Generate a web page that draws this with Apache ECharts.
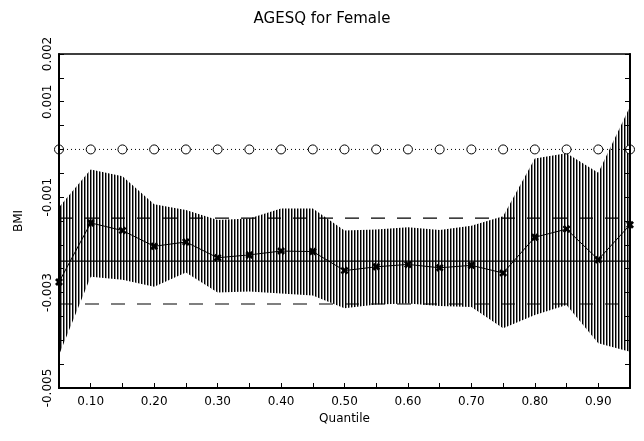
<!DOCTYPE html>
<html>
<head>
<meta charset="utf-8">
<script src="https://cdn.jsdelivr.net/npm/echarts@6/dist/echarts.min.js"></script>
<style>
  html, body { margin: 0; padding: 0; background: #fff; }
  #chart { width: 644px; height: 441px; }
</style>
</head>
<body>
<div id="chart"></div>
<script>
// valores
var quantiles = [0.05, 0.10, 0.15, 0.20, 0.25, 0.30, 0.35, 0.40, 0.45, 0.50,
                 0.55, 0.60, 0.65, 0.70, 0.75, 0.80, 0.85, 0.90, 0.95];
var estimates = [-0.00278, -0.00154, -0.00170, -0.00203, -0.00194, -0.00227, -0.00221, -0.00213, -0.00214, -0.00254,
                 -0.00246, -0.00241, -0.00248, -0.00243, -0.00259, -0.00184, -0.00167, -0.00231, -0.00158];
var upperCL = [-0.00121, -0.00042, -0.00056, -0.00115, -0.00127, -0.00148, -0.00145, -0.00124, -0.00124, -0.00170,
               -0.00168, -0.00163, -0.00169, -0.00160, -0.00140, -0.00019, -0.00008, -0.00049, 0.00090];
var lowerCL = [-0.00431, -0.00267, -0.00273, -0.00288, -0.00258, -0.00300, -0.00298, -0.00302, -0.00306, -0.00333,
               -0.00325, -0.00323, -0.00328, -0.00330, -0.00375, -0.00347, -0.00326, -0.00406, -0.00424];
var zeroValues = [0, 0, 0, 0, 0, 0, 0, 0, 0, 0, 0, 0, 0, 0, 0, 0, 0, 0, 0];
var olsEstimate = -0.00234;
var olsUpper = -0.00144;
var olsLower = -0.00324;
var yLabels = [0.002, 0.001, -0.001, -0.003, -0.005];

var chart = echarts.init(document.getElementById('chart'));

// padrão de hachura vertical para a banda de confiança
var pat = document.createElement('canvas');
pat.width = 3;
pat.height = 4;
var ctx = pat.getContext('2d');
ctx.fillStyle = '#000';
ctx.fillRect(0, 0, 1, 4);
ctx.fillStyle = '#8a8a8a';
ctx.fillRect(1, 0, 1, 4);

function pairs(values) {
    return quantiles.map(function (q, i) { return [q, values[i]]; });
}

function hline(v) {
    return [[quantiles[0], v], [quantiles[quantiles.length - 1], v]];
}

var xMark = 'path://M0,2.5L2.5,0L5,2.5L7.5,0L10,2.5L7.5,5L10,7.5L7.5,10L5,7.5L2.5,10L0,7.5L2.5,5Z';
var font = 'DejaVu Sans';

var options = {
    backgroundColor: '#fff',
    animation: false,
    title: {
        text: 'AGESQ for Female',
        left: 'center',
        top: 7,
        textStyle: { fontFamily: font, fontSize: 15, fontWeight: 'normal', color: '#000' }
    },
    grid: {
        left: 59, right: 14, top: 54, bottom: 53,
        show: true, borderColor: '#000', borderWidth: 1.5
    },
    xAxis: {
        type: 'value',
        min: 0.05, max: 0.95, interval: 0.05,
        z: 10,
        name: 'Quantile',
        nameLocation: 'middle',
        nameGap: 17,
        nameTextStyle: { fontFamily: font, fontSize: 12, color: '#000' },
        axisLine: { onZero: false, lineStyle: { color: '#000', width: 2 } },
        axisTick: { inside: true, length: 5, lineStyle: { color: '#000' } },
        splitLine: { show: false },
        axisLabel: {
            fontFamily: font, fontSize: 12, color: '#000', margin: 8,
            formatter: function (v) {
                var k = Math.round(v * 100);
                return (k % 10 === 0 && k > 5 && k < 95) ? (k / 100).toFixed(2) : '';
            }
        }
    },
    yAxis: [{
        type: 'value',
        min: -0.005, max: 0.002, interval: 0.0005,
        z: 10,
        name: 'BMI',
        nameLocation: 'middle',
        nameGap: 34,
        nameRotate: 90,
        nameTextStyle: { fontFamily: font, fontSize: 12, color: '#000' },
        axisLine: { show: true, onZero: false, lineStyle: { color: '#000', width: 2 } },
        axisTick: { show: true, inside: true, length: 5, lineStyle: { color: '#000' } },
        splitLine: { show: false },
        axisLabel: {
            fontFamily: font, fontSize: 12, color: '#000', rotate: 90, margin: 5,
            formatter: function (v) {
                for (var i = 0; i < yLabels.length; i++) {
                    if (Math.abs(v - yLabels[i]) < 1e-9) return yLabels[i].toFixed(3);
                }
                return '';
            }
        }
    }, {
        type: 'value',
        position: 'right',
        min: -0.005, max: 0.002, interval: 0.0005,
        z: 10,
        axisLine: { show: true, onZero: false, lineStyle: { color: '#000', width: 2 } },
        axisTick: { show: true, inside: true, length: 5, lineStyle: { color: '#000' } },
        axisLabel: { show: false },
        splitLine: { show: false }
    }],
    series: [
        {
            // limite superior: hachura até o fundo do gráfico
            name: 'upper',
            type: 'line',
            symbol: 'none',
            lineStyle: { width: 0, opacity: 0 },
            areaStyle: { color: { image: pat, repeat: 'repeat' }, opacity: 1, origin: 'start' },
            data: pairs(upperCL),
            z: 1
        },
        {
            // limite inferior: branco cobre a hachura abaixo
            name: 'lower',
            type: 'line',
            symbol: 'none',
            lineStyle: { width: 0, opacity: 0 },
            areaStyle: { color: '#fff', opacity: 1, origin: 'start' },
            data: pairs(lowerCL),
            z: 2
        },
        {
            name: 'ols',
            type: 'line',
            symbol: 'none',
            lineStyle: { color: '#000', width: 1.2 },
            data: hline(olsEstimate),
            z: 3
        },
        {
            name: 'olsUpper',
            type: 'line',
            symbol: 'none',
            lineStyle: { color: '#000', width: 1.2, type: [14, 12] },
            data: hline(olsUpper),
            z: 3
        },
        {
            name: 'olsLower',
            type: 'line',
            symbol: 'none',
            lineStyle: { color: '#000', width: 1.2, type: [14, 12] },
            data: hline(olsLower),
            z: 3
        },
        {
            name: 'zero',
            type: 'line',
            symbol: 'circle',
            symbolSize: 9,
            itemStyle: { color: '#fff', borderColor: '#000', borderWidth: 1 },
            lineStyle: { color: '#000', width: 1, type: [1, 3] },
            data: pairs(zeroValues),
            z: 4
        },
        {
            name: 'estimate',
            type: 'line',
            symbol: xMark,
            symbolSize: 8,
            itemStyle: { color: '#000' },
            lineStyle: { color: '#000', width: 1 },
            data: pairs(estimates),
            z: 5
        }
    ]
};

chart.setOption(options);
</script>
</body>
</html>
